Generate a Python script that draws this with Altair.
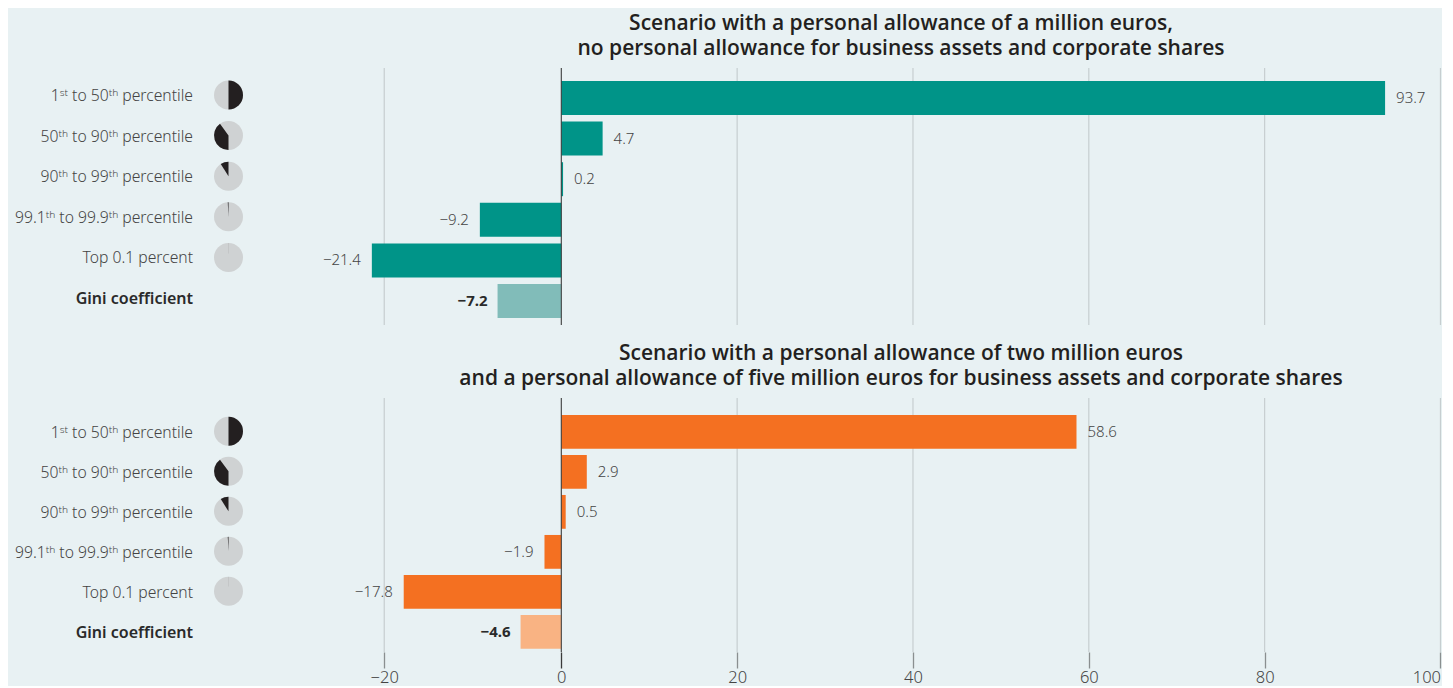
import altair as alt
import pandas as pd

categories = ["1ˢᵗ to 50ᵗʰ percentile", "50ᵗʰ to 90ᵗʰ percentile", "90ᵗʰ to 99ᵗʰ percentile",
              "99.1ᵗʰ to 99.9ᵗʰ percentile", "Top 0.1 percent", "Gini coefficient"]
kinds = ["group", "group", "group", "group", "group", "gini"]
scenario_a = [93.7, 4.7, 0.2, -9.2, -21.4, -7.2]
scenario_b = [58.6, 2.9, 0.5, -1.9, -17.8, -4.6]
pie_categories = categories[:5]
pie_start = [0, 50, 91, 99.2, 99.9]
pie_end = [50, 90, 100, 100, 100]
ticks = [-20, 0, 20, 40, 60, 80, 100]
title_a = ["Scenario with a personal allowance of a million euros,",
           "no personal allowance for business assets and corporate shares"]
title_b = ["Scenario with a personal allowance of two million euros",
           "and a personal allowance of five million euros for business assets and corporate shares"]

BG = "#e8f1f3"
FONT = "Noto Sans"
TXT = "#444444"
W = 1433
x_scale = alt.Scale(domain=[-62.5, 0, 100.06], range=[0, 553.3, W], nice=False, zero=False)
pie_df = pd.DataFrame({"cat": pie_categories, "s": pie_start, "e": pie_end})
tick_df = pd.DataFrame({"t": ticks})


def panel(values, colors, title, height, p_inner, p_outer, align, pie_shift, text_shift, with_axis):
    df = pd.DataFrame({"cat": categories, "kind": kinds, "v": values})
    df["label"] = [f"{v:.1f}".replace("-", "\u2212") for v in values]
    y = alt.Y("cat:N", sort=categories, axis=None,
              scale=alt.Scale(domain=categories, paddingInner=p_inner, paddingOuter=p_outer, align=align))

    xaxis = None
    if with_axis:
        xaxis = alt.Axis(values=ticks, grid=False, domain=False, tickSize=16, tickWidth=1.3,
                         tickColor={"condition": {"test": "datum.value === 0", "value": "#3a3a3a"},
                                    "value": "#8a8f90"},
                         labelAlign={"condition": {"test": "datum.value === 100", "value": "right"},
                                     "value": "center"},
                         labelFontSize=16.5, labelColor=TXT, labelFont=FONT,
                         labelFontWeight=300, labelPadding=1, title=None, labelFlush=False)

    grid = alt.Chart(tick_df).mark_rule(color="#c6ced0", strokeWidth=1.2).encode(
        x=alt.X("t:Q", scale=x_scale, axis=xaxis, title=None))
    bars = alt.Chart(df).mark_bar().encode(
        x=alt.X("v:Q", scale=x_scale, title=None), y=y,
        color=alt.Color("kind:N", legend=None,
                        scale=alt.Scale(domain=["group", "gini"], range=colors)))
    zero = alt.Chart(pd.DataFrame({"t": [0]})).mark_rule(color="#3a3a3a", strokeWidth=1).encode(
        x=alt.X("t:Q", scale=x_scale))

    def vlabel(cond, align_, dx, weight, color):
        return alt.Chart(df).transform_filter(cond).mark_text(
            align=align_, dx=dx, font=FONT, fontSize=15, fontWeight=weight, color=color, baseline="middle"
        ).encode(x=alt.X("v:Q", scale=x_scale), y=y, text="label:N")

    pos = vlabel("datum.v >= 0 && datum.kind == 'group'", "left", 11, 300, TXT)
    neg = vlabel("datum.v < 0 && datum.kind == 'group'", "right", -11, 300, TXT)
    gini = vlabel("datum.kind == 'gini'", "right", -10, 700, "#2a2a2a")

    lab = alt.Chart(df).transform_filter("datum.kind == 'group'").mark_text(
        align="right", font=FONT, fontSize=15.7, fontWeight=300, color=TXT, baseline="middle", dy=text_shift
    ).encode(x=alt.value(185), y=y, text="cat:N")
    lab_g = alt.Chart(df).transform_filter("datum.kind == 'gini'").mark_text(
        align="right", font=FONT, fontSize=16, fontWeight=600, color="#2a2a2a", baseline="middle", dy=text_shift
    ).encode(x=alt.value(185), y=y, text="cat:N")

    pie_full = alt.Chart(pie_df).mark_arc(radius=14.5, color="#cfd2d3", yOffset=pie_shift).encode(
        x=alt.value(220.5), y=y,
        theta=alt.Theta(datum=0, scale=alt.Scale(domain=[0, 100], range=[0, 6.28318530718])),
        theta2=alt.Theta2(datum=100))
    pie_dark = alt.Chart(pie_df).mark_arc(radius=14.5, color="#231f20", yOffset=pie_shift).encode(
        x=alt.value(220.5), y=y,
        theta=alt.Theta("s:Q", stack=None, scale=alt.Scale(domain=[0, 100], range=[0, 6.28318530718])),
        theta2="e:Q")

    return alt.layer(grid, bars, zero, pos, neg, gini, lab, lab_g, pie_full, pie_dark).properties(
        width=W, height=height,
        title=alt.TitleParams(title, anchor="middle", dx=176.5, fontSize=21, fontWeight=600, font="Open Sans",
                              color="#231f20", lineHeight=25, offset=-13, baseline="bottom"))


top = panel(scenario_a, ["#009488", "#81bcb9"], title_a, 257, 0.163, 0.2465, 0.65, -3, -2, False)
bottom = panel(scenario_b, ["#f47021", "#f9b383"], title_b, 254, 0.155, 0.2525, 0.84, -0.5, 1, True)

chart = alt.vconcat(top, bottom, spacing=17, background=BG,
                    padding={"top": 5, "left": 0, "right": 0, "bottom": 0}
                    ).resolve_scale(color="independent").configure_view(stroke=None)
chart.save("out.html", embed_options={"renderer": "svg", "actions": False})
